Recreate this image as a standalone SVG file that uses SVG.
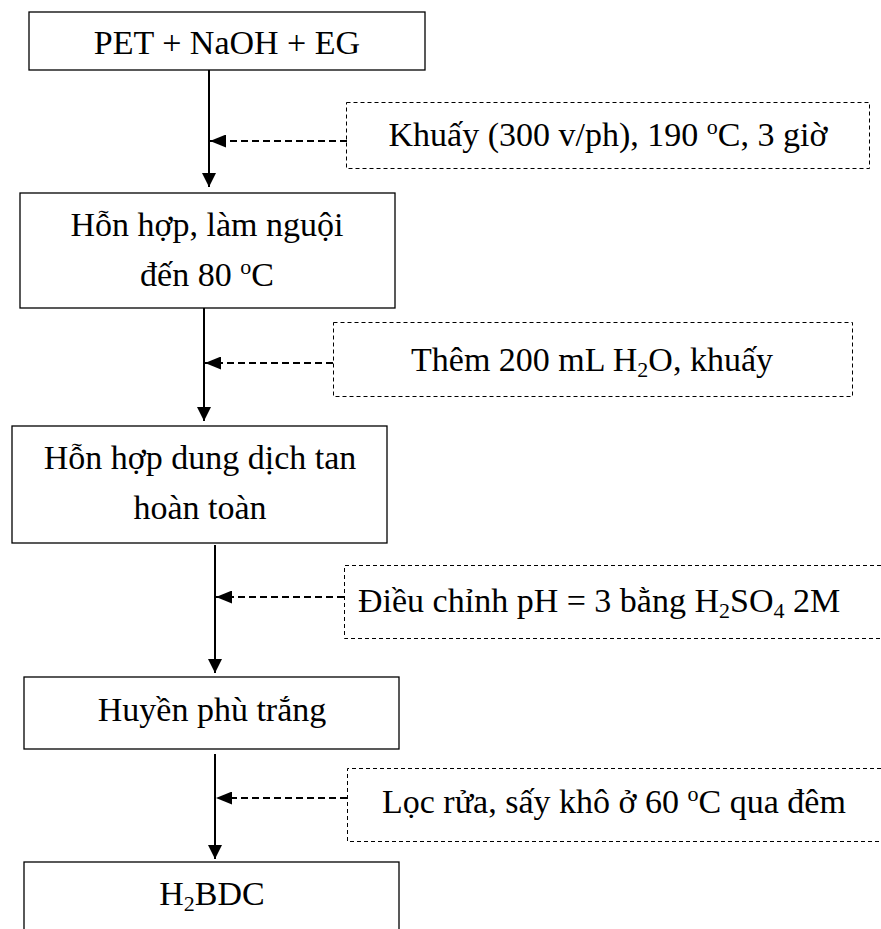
<svg xmlns="http://www.w3.org/2000/svg" width="881" height="929" viewBox="0 0 881 929">
  <defs>
    <marker id="head-down" markerWidth="14" markerHeight="14" refX="14" refY="7" orient="auto" markerUnits="userSpaceOnUse">
      <path d="M0,0 L14,7 L0,14 Z" fill="#000"/>
    </marker>
    <marker id="head-left" markerWidth="16" markerHeight="13" refX="16" refY="6.5" orient="auto" markerUnits="userSpaceOnUse">
      <path d="M0,0 L16,6.5 L0,13 Z" fill="#000"/>
    </marker>
  </defs>
  <style>
    .step { fill: #fff; stroke: #000; stroke-width: 1.3; }
    .cond { fill: none; stroke: #000; stroke-width: 1; stroke-dasharray: 4 3; }
    .flow { stroke: #000; stroke-width: 2; fill: none; marker-end: url(#head-down); }
    .feed { stroke: #000; stroke-width: 2; fill: none; stroke-dasharray: 7 4; marker-end: url(#head-left); }
    text { font-family: "Liberation Serif", "Times New Roman", serif; font-size: 34px; fill: #000; }
    .c { text-anchor: middle; }
    .sup { font-size: 22px; }
    .sub { font-size: 22px; }
  </style>
  <rect width="881" height="929" fill="#fff"/>

  <!-- connectors -->
  <g id="connectors">
    <line class="flow" x1="209" y1="70" x2="209" y2="187"/>
    <line class="feed" x1="347" y1="141" x2="210" y2="141"/>
    <line class="flow" x1="204" y1="308" x2="204" y2="421"/>
    <line class="feed" x1="333" y1="363" x2="205" y2="363"/>
    <line class="flow" x1="215" y1="545" x2="215" y2="673"/>
    <line class="feed" x1="344" y1="597" x2="216" y2="597"/>
    <line class="flow" x1="215" y1="754" x2="215" y2="859"/>
    <line class="feed" x1="347" y1="798" x2="216" y2="798"/>
  </g>

  <!-- process steps -->
  <g id="step-pet">
    <rect class="step" x="29" y="12" width="396" height="58"/>
    <text class="c" x="227" y="54">PET + NaOH + EG</text>
  </g>
  <g id="step-cool">
    <rect class="step" x="20" y="193" width="375" height="115"/>
    <text class="c" x="207" y="236">Hỗn hợp, làm nguội</text>
    <text class="c" x="207" y="286">đến 80 <tspan class="sup" dy="-12">o</tspan><tspan dy="12">C</tspan></text>
  </g>
  <g id="step-dissolved">
    <rect class="step" x="12" y="426" width="375" height="117"/>
    <text class="c" x="200" y="469">Hỗn hợp dung dịch tan</text>
    <text class="c" x="200" y="519">hoàn toàn</text>
  </g>
  <g id="step-suspension">
    <rect class="step" x="24" y="677" width="375" height="72"/>
    <text class="c" x="212" y="721">Huyền phù trắng</text>
  </g>
  <g id="step-product">
    <rect class="step" x="24" y="862" width="375" height="80"/>
    <text class="c" x="212" y="905">H<tspan class="sub" dy="6">2</tspan><tspan dy="-6">BDC</tspan></text>
  </g>

  <!-- process conditions -->
  <g id="cond-stir">
    <rect class="cond" x="346.5" y="102.5" width="523" height="66"/>
    <text class="c" x="608" y="146">Khuấy (300 v/ph), 190 <tspan class="sup" dy="-12">o</tspan><tspan dy="12">C, 3 giờ</tspan></text>
  </g>
  <g id="cond-water">
    <rect class="cond" x="333.5" y="322.5" width="519" height="74"/>
    <text class="c" x="592" y="371">Thêm 200 mL H<tspan class="sub" dy="6">2</tspan><tspan dy="-6">O, khuấy</tspan></text>
  </g>
  <g id="cond-acid">
    <path class="cond" d="M881,565.5 H344.5 V638.5 H881"/>
    <text x="358" y="612">Điều chỉnh pH = 3 bằng H<tspan class="sub" dy="6">2</tspan><tspan dy="-6">SO</tspan><tspan class="sub" dy="6">4</tspan><tspan dy="-6"> 2M</tspan></text>
  </g>
  <g id="cond-dry">
    <path class="cond" d="M881,768.5 H347.5 V841.5 H881"/>
    <text x="382" y="813">Lọc rửa, sấy khô ở 60 <tspan class="sup" dy="-12">o</tspan><tspan dy="12">C qua đêm</tspan></text>
  </g>
</svg>
